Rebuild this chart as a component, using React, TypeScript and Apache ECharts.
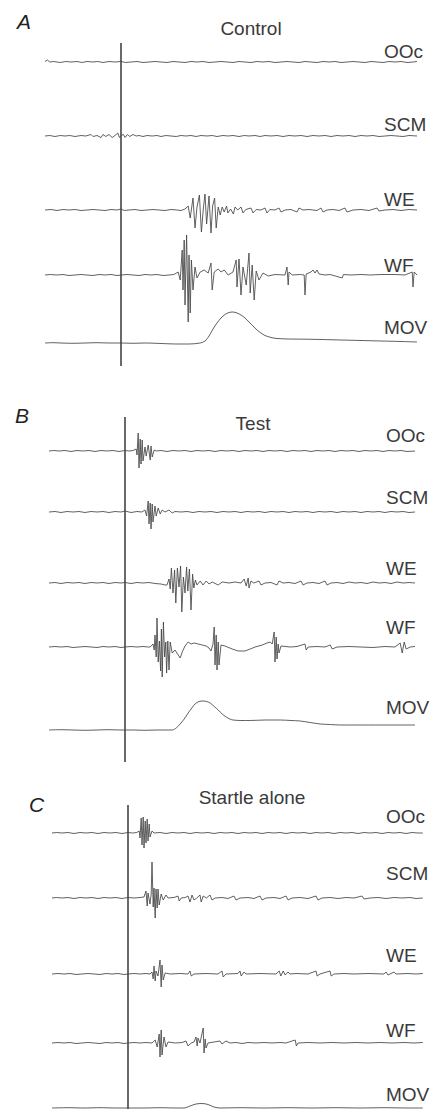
import React, { useEffect, useRef } from "react";
import * as echarts from "echarts";

// Time axis (ms relative to the stimulus) and amplitude units (arbitrary, ±5 full scale)
const T_MIN = -190;
const T_MAX = 740;
const AMP_RANGE = 5;

const TRACE_NAMES = ["OOc", "SCM", "WE", "WF", "MOV"];
const PANEL_LETTERS = ["A", "B", "C"];
const PANEL_TITLES = ["Control", "Test", "Startle alone"];

// Stimulus marker: vertical line at t = 0
const STIM = [[0, 0], [0, 1]];

// ---------- A: Control ----------
const A_OOC = [[-190,0.05],[-184,0.2],[-178,0],[-168,0.05],[-152,-0.05],[-138,0.05],[-125,0],[-110,0.05],[-98,-0.05],[-85,0.05],[-70,0],[-58,0.05],[-45,-0.05],[-30,0.05],[-15,0],[0,0.05],[12,-0.05],[25,0],[40,0.05],[55,-0.05],[70,0],[85,0.05],[100,0],[115,-0.05],[130,0.05],[145,0],[160,-0.05],[175,0.05],[190,0],[205,0.05],[220,-0.05],[235,0],[250,0.05],[265,0],[280,-0.05],[295,0.05],[310,0],[325,-0.05],[340,0.05],[355,0],[370,0.05],[385,-0.05],[400,0],[415,0.05],[430,0],[445,-0.05],[460,0.05],[475,0],[490,-0.05],[505,0.05],[520,0],[535,0.05],[550,-0.05],[565,0],[580,0.05],[595,0],[610,-0.05],[625,0.05],[640,0],[655,-0.05],[670,0.05],[685,0],[700,0.05],[715,-0.05],[730,0],[740,0.05]];
const A_SCM = [[-190,0],[-178,0.05],[-165,-0.05],[-152,0.05],[-140,0],[-128,0.05],[-115,-0.05],[-100,0.05],[-88,0],[-75,0.15],[-70,-0.05],[-60,0.05],[-50,-0.15],[-45,0.15],[-38,-0.05],[-30,0.15],[-22,-0.15],[-15,0.05],[-8,0.3],[-4,-0.15],[0,0.05],[6,0.15],[10,-0.15],[16,0.15],[22,-0.05],[30,0.15],[38,0],[45,0.05],[55,-0.05],[65,0.05],[78,0],[90,0.05],[100,-0.05],[112,0.05],[125,0],[138,-0.05],[150,0.05],[162,0],[175,0.05],[188,-0.05],[200,0.05],[215,0],[228,0.05],[240,-0.05],[255,0.05],[268,0],[280,0.05],[295,-0.05],[308,0.05],[320,0],[335,0.05],[348,-0.05],[360,0.05],[375,0],[390,0.05],[405,-0.05],[420,0.05],[435,0],[450,0.05],[465,-0.05],[480,0.05],[495,0],[510,0.05],[525,-0.05],[540,0.05],[555,0],[570,0.05],[585,-0.05],[600,0.05],[615,0],[630,0.05],[645,-0.05],[660,0],[675,0.05],[690,0],[705,-0.05],[720,0.05],[740,0]];
const A_WE = [[-190,0],[-175,0.05],[-160,-0.05],[-145,0.05],[-130,0],[-115,0.05],[-100,-0.05],[-85,0],[-70,0.05],[-55,0],[-40,-0.05],[-25,0.05],[-10,0],[0,0.1],[8,-0.05],[20,0],[35,0.05],[50,-0.05],[65,0],[80,0.05],[95,0],[110,-0.05],[125,0.05],[140,0],[150,-0.05],[160,0.1],[168,0.4],[173,-0.8],[180,1.2],[185,-1.8],[190,0.3],[196,1.5],[201,-2.2],[206,0.2],[210,1.6],[214,-1.4],[220,1.4],[225,-2.3],[229,0.4],[234,1.2],[238,-1.8],[243,0.3],[248,-0.5],[253,0.3],[258,-0.2],[264,0.4],[267,-0.3],[274,0.1],[281,-0.4],[285,0.3],[292,0],[300,0.3],[305,-0.3],[312,0.05],[325,0.2],[330,-0.3],[338,0.05],[350,0],[360,0.2],[365,-0.3],[372,0.05],[385,0],[395,0.2],[400,-0.2],[410,0],[425,0.05],[440,-0.2],[445,0.2],[455,0],[470,0.05],[490,-0.05],[500,0.2],[505,-0.2],[515,0],[530,0.05],[545,-0.05],[560,0.2],[565,-0.2],[580,0],[600,0.05],[620,-0.05],[640,0.2],[645,-0.1],[660,0],[680,0.05],[700,-0.05],[720,0.05],[740,0]];
const A_WF = [[-190,0],[-176,0.05],[-160,0],[-145,0.05],[-130,-0.05],[-115,0],[-100,0.05],[-85,0],[-70,-0.05],[-55,0.05],[-40,0],[-25,0.05],[-10,-0.05],[0,0],[15,0.05],[30,0],[45,-0.05],[60,0.05],[75,0],[90,0.05],[105,-0.05],[120,0],[132,0.05],[143,0.3],[148,-0.5],[153,2.5],[155,-1.5],[158,3.5],[160,-3.0],[164,4.0],[168,-4.7],[170,2.0],[173,-3.8],[176,1.5],[180,-1.5],[185,0.8],[190,-0.3],[198,0.3],[208,0.5],[218,0.2],[225,1.2],[228,-1.5],[233,0.3],[243,0.6],[250,0.3],[258,0.5],[268,0],[280,0.3],[288,1.5],[290,-1.2],[295,1.6],[300,-2.0],[305,0.8],[313,-1.0],[320,2.2],[323,-1.8],[328,1.0],[333,-2.5],[338,0.4],[345,-0.5],[355,0.2],[368,-0.1],[385,0.05],[410,0],[415,0.8],[418,-1.0],[420,0.3],[428,0],[448,0.05],[458,0],[460,-2.0],[463,0.1],[475,0.3],[480,0.5],[485,0.2],[490,0.5],[495,0.1],[510,0],[523,0.05],[553,-0.3],[556,0.05],[575,0],[600,0.05],[623,0],[650,0.05],[685,0.05],[710,0],[728,0.3],[730,-1.2],[733,0.3],[740,0]];
const A_MOV = [[-190,0],[-170,0.03],[-150,0],[-120,-0.03],[-90,0],[-60,0.03],[-30,0],[0,0],[30,-0.03],[60,0],[100,-0.05],[140,-0.1],[170,-0.1],[198,0],[210,0.2],[220,0.7],[230,1.4],[240,2.0],[250,2.5],[260,2.85],[270,3.05],[280,3.1],[290,3.0],[300,2.8],[310,2.5],[320,2.1],[330,1.7],[340,1.3],[350,1.0],[360,0.75],[375,0.55],[390,0.45],[420,0.4],[460,0.38],[500,0.35],[550,0.3],[600,0.25],[650,0.2],[700,0.15],[740,0.1]];

// ---------- B: Test ----------
const B_OOC = [[-190,0],[-178,0.05],[-165,0],[-150,0.05],[-135,-0.05],[-120,0.05],[-105,0],[-90,0.05],[-75,-0.05],[-60,0.05],[-45,0],[-30,0.05],[-15,-0.05],[0,0.05],[10,0],[20,0.05],[28,0.2],[30,-0.4],[33,1.8],[35,-1.7],[38,1.2],[40,-1.3],[43,1.1],[45,-1.0],[50,0.4],[53,-0.5],[58,0.6],[63,-0.9],[65,0.5],[68,-0.6],[73,0.1],[78,0],[90,0.05],[105,-0.05],[120,0.05],[135,0],[150,0.05],[165,-0.05],[180,0.05],[195,0],[210,0.05],[225,-0.05],[240,0.05],[255,0],[270,0.05],[285,-0.05],[300,0.05],[315,0],[330,0.05],[345,-0.05],[360,0.05],[375,0],[390,0.05],[405,-0.05],[420,0.05],[435,0],[450,0.05],[465,-0.05],[480,0.05],[495,0],[510,0.05],[525,-0.05],[540,0.05],[555,0],[570,0.05],[585,-0.05],[600,0.05],[615,0],[630,0.05],[645,-0.05],[660,0.05],[675,0],[690,0.05],[705,-0.05],[725,0]];
const B_SCM = [[-190,0],[-175,0.05],[-160,-0.05],[-145,0.05],[-130,0],[-115,0.05],[-100,-0.05],[-85,0.05],[-70,0],[-55,0.05],[-40,-0.05],[-25,0.05],[-10,0],[0,0.1],[15,-0.05],[30,0.05],[42,0],[50,0.2],[54,-0.4],[58,1.1],[60,-1.2],[63,0.9],[65,-1.7],[68,0.8],[70,-1.0],[75,0.6],[78,-0.4],[83,0.4],[88,-0.2],[93,0.2],[100,0],[110,0.2],[118,-0.1],[125,0.05],[140,0],[155,0.05],[170,-0.05],[185,0.05],[200,0],[215,0.05],[230,-0.05],[245,0.05],[260,0],[275,0.05],[290,-0.05],[305,0.05],[320,0],[335,0.05],[350,-0.05],[365,0.05],[380,0],[395,0.05],[410,-0.05],[425,0.05],[440,0],[455,0.05],[470,-0.05],[485,0.05],[500,0],[515,0.05],[530,-0.05],[545,0.05],[560,0],[575,0.05],[590,-0.05],[605,0.05],[620,0],[635,0.05],[650,-0.05],[665,0.05],[680,0],[695,0.05],[710,-0.05],[725,0]];
const B_WE = [[-190,0],[-175,0.05],[-160,-0.05],[-145,0.05],[-130,0],[-115,0.05],[-100,-0.05],[-85,0.05],[-70,0],[-55,0.05],[-40,-0.05],[-25,0.05],[-10,0],[0,0.05],[15,-0.05],[30,0.05],[45,0],[60,0.05],[75,-0.05],[90,-0.1],[100,-0.2],[105,-0.2],[110,0.4],[113,-0.6],[116,1.5],[120,-1.0],[124,1.3],[127,-2.0],[131,1.5],[135,-0.4],[139,1.7],[142,-2.9],[146,0.6],[150,-1.0],[154,1.6],[157,-0.8],[161,1.4],[165,-2.7],[169,0.9],[172,-0.5],[176,0.3],[180,-0.2],[188,0.2],[195,-0.2],[203,0.2],[210,-0.1],[218,0.1],[233,-0.2],[243,0.1],[260,0],[275,0.1],[290,0],[298,0.4],[303,-0.3],[308,0.5],[310,-0.5],[315,0.2],[322,0],[335,0.2],[340,-0.2],[350,0],[365,0.05],[380,-0.2],[385,0.2],[395,0],[410,0.05],[425,-0.05],[440,0.2],[445,-0.2],[455,0],[470,0.05],[485,-0.05],[500,0.2],[505,-0.2],[515,0],[530,0.05],[545,-0.05],[560,0.1],[575,0],[590,0.05],[605,-0.05],[620,0.1],[635,0],[650,0.05],[665,-0.05],[680,0.1],[695,0],[710,0.05],[725,0]];
const B_WF = [[-190,0],[-175,0.05],[-160,0],[-145,0.05],[-130,-0.05],[-115,0],[-100,0.05],[-85,0],[-70,-0.05],[-55,0.05],[-40,0],[-25,0.05],[-10,-0.05],[0,0],[15,0.05],[30,0],[45,0.05],[58,0],[63,0],[70,0.3],[73,-0.3],[75,1.2],[78,-1.0],[80,2.9],[83,-1.5],[86,0.6],[89,-2.4],[91,1.8],[93,-3.0],[96,2.5],[99,-1.0],[102,0.5],[104,-2.6],[107,0.6],[110,-2.3],[113,0.5],[118,-0.6],[125,-0.3],[133,-0.8],[138,-1.1],[143,-0.5],[150,0.1],[158,0.5],[165,0.3],[173,0.4],[183,0.3],[193,0.2],[203,0.1],[210,-0.1],[215,-0.4],[220,0.3],[223,2.0],[225,-1.8],[228,1.2],[230,-2.3],[233,0.5],[235,-1.8],[240,0.2],[250,0.1],[268,-0.2],[283,-0.4],[300,-0.4],[313,-0.2],[325,0],[343,0.2],[355,0.4],[363,0.5],[368,0.3],[373,1.5],[375,-1.5],[378,1.0],[380,-1.2],[383,0.3],[385,-0.6],[390,0.1],[413,0],[430,0.05],[450,0.3],[453,-0.3],[458,0],[480,0.05],[500,0],[513,0.2],[518,-0.2],[530,0],[560,0.05],[590,0],[620,-0.05],[650,0.05],[675,0],[688,0.4],[693,-0.6],[698,0.5],[703,-0.2],[713,0],[725,0.05]];
const B_MOV = [[-190,0],[-160,0.03],[-130,0],[-100,-0.03],[-70,0],[-40,0.03],[-10,0],[20,0],[50,-0.03],[80,0],[100,0],[118,0],[128,0.2],[138,0.6],[148,1.1],[158,1.7],[167,2.2],[175,2.6],[185,2.85],[195,2.9],[204,2.85],[213,2.7],[223,2.35],[233,2.0],[243,1.6],[253,1.3],[262,1.1],[270,1.0],[290,0.95],[313,0.95],[350,1.0],[388,1.0],[415,0.95],[438,0.9],[463,0.75],[488,0.6],[513,0.55],[538,0.5],[580,0.5],[638,0.5],[680,0.5],[725,0.5]];

// ---------- C: Startle alone ----------
const C_OOC = [[-190,0],[-178,0.05],[-165,0],[-150,0.05],[-135,-0.05],[-120,0.05],[-105,0],[-90,0.05],[-75,-0.05],[-60,0.05],[-45,0],[-30,0.05],[-15,-0.05],[0,0.05],[12,0],[22,0.05],[28,0.2],[30,-0.5],[33,1.5],[35,-1.2],[38,1.6],[40,-1.5],[43,1.2],[45,-1.0],[48,1.4],[50,-0.8],[53,0.9],[55,-0.4],[60,0.2],[65,0],[80,0.05],[95,-0.05],[110,0.05],[125,0],[140,0.05],[155,-0.05],[170,0.05],[185,0],[200,0.05],[215,-0.05],[230,0.05],[245,0],[260,0.05],[275,-0.05],[290,0.05],[305,0],[320,0.05],[335,-0.05],[350,0.05],[365,0],[380,0.05],[395,-0.05],[410,0.05],[425,0],[440,0.05],[455,-0.05],[470,0.05],[485,0],[500,0.05],[515,-0.05],[530,0.05],[545,0],[560,0.05],[575,-0.05],[590,0.05],[605,0],[620,0.05],[635,-0.05],[650,0.05],[665,0],[680,0.05],[695,-0.05],[710,0.05],[725,0],[737,0]];
const C_SCM = [[-190,0],[-178,0.05],[-165,0],[-150,0.05],[-135,-0.05],[-120,0.05],[-105,0],[-90,0.05],[-75,-0.05],[-60,0.05],[-45,0],[-30,0.05],[-15,-0.05],[0,0.05],[15,0],[30,0.05],[40,0.1],[45,0.7],[48,-0.8],[50,0.5],[55,-0.6],[58,0.4],[60,3.6],[63,-0.9],[65,1.0],[68,-2.0],[70,0.9],[73,-1.0],[75,0.9],[78,-0.7],[83,0.4],[88,-0.2],[95,0.3],[100,0],[115,0.05],[125,0.2],[128,-0.3],[133,0],[143,0.05],[150,0.2],[155,-0.4],[160,0.3],[165,-0.2],[172,0],[180,0.3],[183,-0.4],[188,0.2],[196,0],[205,0.3],[210,-0.2],[218,0],[235,0.05],[250,-0.05],[265,0.2],[270,-0.2],[280,0],[300,0.05],[315,-0.05],[330,0.2],[335,-0.2],[345,0],[365,0.05],[380,-0.05],[395,0.2],[400,-0.2],[410,0],[430,0.05],[450,-0.05],[470,0.2],[475,-0.2],[485,0],[505,0.05],[525,-0.05],[545,0.05],[565,0],[585,0.2],[590,-0.1],[605,0],[625,0.05],[645,-0.05],[665,0.05],[685,0],[705,0.05],[720,-0.05],[737,0]];
const C_WE = [[-190,0],[-175,0.05],[-160,0],[-145,0.05],[-130,-0.05],[-115,0],[-100,0.05],[-85,0],[-70,-0.05],[-55,0.05],[-40,0],[-25,0.05],[-10,-0.05],[0,0],[15,0.05],[30,0],[45,0.05],[55,0],[60,0.2],[63,-0.5],[65,0.8],[68,-0.7],[70,0.3],[75,-0.2],[80,1.4],[83,-1.3],[85,0.9],[88,-0.6],[93,0.1],[105,0],[130,0.05],[150,0],[155,0.3],[158,-0.2],[165,0],[195,0.05],[225,0],[235,0.3],[238,-0.3],[245,0],[275,0.05],[280,0.3],[283,-0.2],[290,0.2],[295,0],[330,0.05],[370,0],[378,0.3],[382,-0.2],[388,0.3],[393,-0.1],[400,0.2],[405,0],[420,0.05],[450,0],[470,0.3],[473,-0.2],[480,0],[505,0.3],[508,-0.2],[515,0],[540,0.05],[565,0],[600,0.05],[640,0],[645,0.2],[650,-0.1],[665,0.2],[670,0],[700,0.05],[720,0],[737,0.05]];
const C_WF = [[-190,0],[-175,0.05],[-160,0],[-145,0.05],[-130,-0.05],[-115,0],[-100,0.05],[-85,0],[-70,-0.05],[-55,0.05],[-40,0],[-25,0.05],[-10,-0.05],[0,0],[15,0.05],[30,0],[45,0.05],[60,0],[68,0.3],[73,-0.4],[78,0.9],[80,-1.4],[83,1.3],[85,-1.2],[90,0.6],[95,-0.4],[100,0.1],[118,0],[135,0.05],[145,0.2],[150,-0.3],[158,0],[165,0.1],[170,0.6],[173,-0.3],[175,0.5],[180,0],[188,1.5],[190,-1.0],[193,0.4],[195,-0.5],[200,0],[215,0.1],[230,0.2],[235,-0.1],[245,0.2],[255,0],[270,0.05],[285,-0.05],[300,0.05],[320,0],[340,0.05],[360,0],[380,0.05],[395,0],[418,0.3],[421,-0.3],[425,0],[450,0.05],[480,0],[510,0.05],[540,0],[570,0.05],[600,0],[630,0.05],[660,0],[690,0.05],[715,0],[737,0.05]];
const C_MOV = [[-190,0],[-150,0.03],[-110,0],[-70,0.03],[-30,0],[0,0],[40,0],[80,0.03],[120,0],[140,0],[155,0.2],[170,0.4],[185,0.45],[200,0.35],[215,0.1],[230,0],[280,0.03],[340,0],[400,0.03],[460,0],[520,0.03],[580,0],[640,0.03],[700,0],[737,0]];

const PANEL_DATA = [
  [A_OOC, A_SCM, A_WE, A_WF, A_MOV],
  [B_OOC, B_SCM, B_WE, B_WF, B_MOV],
  [C_OOC, C_SCM, C_WE, C_WF, C_MOV],
];

// Page layout (pixels) for each panel
const PANEL_LAYOUT = [
  { letterX: 17, letterY: 21, titleX: 251, titleY: 28, stimX: 121, stimTop: 43, stimBottom: 366, labelX: 384,
    baselines: [62, 136, 210, 275, 343], labelYs: [51, 124, 199, 265, 327] },
  { letterX: 15, letterY: 415, titleX: 253, titleY: 423, stimX: 125, stimTop: 417, stimBottom: 762, labelX: 386,
    baselines: [451, 512, 583, 647, 730], labelYs: [435, 497, 568, 627, 707] },
  { letterX: 29, letterY: 804, titleX: 252, titleY: 797, stimX: 128, stimTop: 805, stimBottom: 1109, labelX: 386,
    baselines: [833, 898, 974, 1043, 1108], labelYs: [816, 873, 955, 1030, 1094] },
];

const PAGE_H = 1109;
const PLOT_W = 372;
const HALF_H = 50; // pixels from baseline to the top of each trace's grid
const FONT = '"Liberation Sans", Arial, sans-serif';
const TRACE_COLOR = "#444444";
const TEXT_COLOR = "#3a3a3a";

function buildOption() {
  const grid: any[] = [];
  const xAxis: any[] = [];
  const yAxis: any[] = [];
  const series: any[] = [];
  const graphic: any[] = [];
  const msToPx = PLOT_W / (T_MAX - T_MIN);
  const pxPerUnit = HALF_H / AMP_RANGE;

  PANEL_LAYOUT.forEach((p, pi) => {
    const left = p.stimX + T_MIN * msToPx;

    // stimulus line grid spanning the whole panel
    const si = grid.length;
    grid.push({ left, top: p.stimTop, width: PLOT_W, height: p.stimBottom - p.stimTop });
    xAxis.push({ type: "value", gridIndex: si, min: T_MIN, max: T_MAX, show: false });
    yAxis.push({ type: "value", gridIndex: si, min: 0, max: 1, show: false });
    series.push({
      type: "line", xAxisIndex: si, yAxisIndex: si, data: STIM, symbol: "none", silent: true,
      lineStyle: { color: "#1a1a1a", width: 1.3 },
    });

    PANEL_DATA[pi].forEach((trace, ti) => {
      const gi = grid.length;
      const base = p.baselines[ti];
      // keep each grid inside the page; the lower bound follows the available room
      const bottomPx = Math.min(base + HALF_H, PAGE_H);
      grid.push({ left, top: base - HALF_H, width: PLOT_W, height: bottomPx - (base - HALF_H) });
      xAxis.push({ type: "value", gridIndex: gi, min: T_MIN, max: T_MAX, show: false });
      yAxis.push({ type: "value", gridIndex: gi, min: -(bottomPx - base) / pxPerUnit, max: AMP_RANGE, show: false });
      series.push({
        type: "line", name: `${PANEL_LETTERS[pi]}-${TRACE_NAMES[ti]}`,
        xAxisIndex: gi, yAxisIndex: gi, data: trace, symbol: "none", silent: true,
        smooth: TRACE_NAMES[ti] === "MOV" ? 0.3 : false,
        clip: false,
        lineStyle: { color: TRACE_COLOR, width: 0.85 },
      });
      graphic.push({
        type: "text", x: p.labelX, y: p.labelYs[ti],
        style: { text: TRACE_NAMES[ti], fontSize: 19, fontFamily: FONT, fill: TEXT_COLOR, align: "left", verticalAlign: "middle" },
      });
    });

    graphic.push({
      type: "text", x: p.letterX, y: p.letterY,
      style: { text: PANEL_LETTERS[pi], fontSize: 21, fontStyle: "italic", fontFamily: FONT, fill: "#222", align: "left", verticalAlign: "middle" },
    });
    graphic.push({
      type: "text", x: p.titleX, y: p.titleY,
      style: { text: PANEL_TITLES[pi], fontSize: 19, fontFamily: FONT, fill: TEXT_COLOR, align: "center", verticalAlign: "middle" },
    });
  });

  return { animation: false, backgroundColor: "#ffffff", grid, xAxis, yAxis, series, graphic };
}

export default function App() {
  const ref = useRef<HTMLDivElement>(null);
  useEffect(() => {
    if (!ref.current) return;
    const chart = echarts.init(ref.current, undefined, { renderer: "svg" });
    chart.setOption(buildOption());
    return () => chart.dispose();
  }, []);
  return (
    <div
      ref={ref}
      style={{ position: "absolute", left: 0, top: 0, width: 434, height: PAGE_H, background: "#fff" }}
    />
  );
}
